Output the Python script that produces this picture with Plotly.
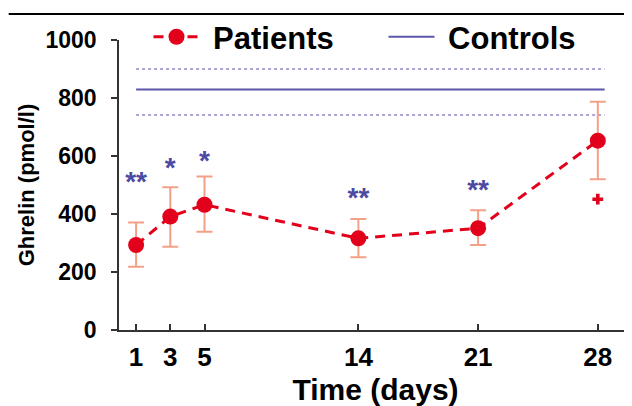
import plotly.graph_objects as go

# ---- data ----
days = [1, 3, 5, 14, 21, 28]
ghrelin = [293, 391, 432, 316, 351, 653]
err_plus = [78, 101, 97, 67, 62, 134]
err_minus = [75, 104, 93, 65, 58, 133]

ctrl_days = [1, 28.4]
ctrl_mean = 829
ctrl_upper = 900
ctrl_lower = 741

sig_days = [1, 3, 5, 14, 21]
sig_labels = ["**", "*", "*", "**", "**"]
sig_y = [505, 552, 576, 450, 477]

plus_days = [28]
plus_y = [451]

xtick_vals = [1, 3, 5, 14, 21, 28]
ytick_vals = [0, 200, 400, 600, 800, 1000]

FONT = "Liberation Sans, Arial, Helvetica, sans-serif"
RED = "#e3001b"
ERR = "#f3a088"
BLUE = "#4d4aa3"
CTRL = "#5b57aa"
CTRL_DOT = "#8d8bc9"

fig = go.Figure()

# controls band (dotted)
for v in (ctrl_upper, ctrl_lower):
    fig.add_trace(go.Scatter(
        x=ctrl_days, y=[v, v], mode="lines",
        line=dict(color=CTRL_DOT, width=1.5, dash="3px,3px"),
        showlegend=False, hoverinfo="skip"))

# patients
fig.add_trace(go.Scatter(
    x=days, y=ghrelin, mode="lines+markers", name="\u00a0Patients",
    line=dict(color=RED, width=3, dash="10px,7px"),
    marker=dict(color=RED, size=16, symbol="circle"),
    error_y=dict(type="data", array=err_plus, arrayminus=err_minus,
                 color=ERR, thickness=2, width=8, symmetric=False),
))

# controls mean
fig.add_trace(go.Scatter(
    x=ctrl_days, y=[ctrl_mean, ctrl_mean], mode="lines", name="\u00a0Controls",
    line=dict(color=CTRL, width=2),
))

# significance marks
fig.add_trace(go.Scatter(
    x=sig_days, y=sig_y, mode="text", text=sig_labels,
    textposition="middle center",
    textfont=dict(family=FONT, size=28, color=BLUE, weight="bold"),
    showlegend=False, hoverinfo="skip"))

fig.add_trace(go.Scatter(
    x=plus_days, y=plus_y, mode="markers",
    marker=dict(symbol="cross", size=9, color=RED, line=dict(width=0)),
    showlegend=False, hoverinfo="skip"))

fig.update_layout(
    width=624, height=398,
    margin=dict(l=111, r=0, t=32, b=76, autoexpand=False),
    plot_bgcolor="white", paper_bgcolor="white",
    font=dict(family=FONT, color="black"),
    legend=dict(orientation="h", x=0.0575, y=1.01, xanchor="left", yanchor="middle",
                font=dict(family=FONT, size=31, color="black", weight="bold"),
                bgcolor="rgba(0,0,0,0)", itemwidth=46, tracegroupgap=0,
                entrywidth=174),
    shapes=[dict(type="line", xref="paper", yref="paper",
                 x0=-0.215, x1=1.0, y0=1.09, y1=1.09,
                 line=dict(color="black", width=2))],
)

fig.update_xaxes(
    range=[0, 30], tickvals=xtick_vals, ticktext=[str(v) for v in xtick_vals],
    showline=True, linecolor="#333", linewidth=1.5,
    ticks="inside", ticklen=6, tickcolor="#333", tickwidth=1.5,
    showgrid=False, zeroline=False, automargin=False,
    tickfont=dict(family=FONT, size=26, color="black", weight="bold"),
    ticklabelstandoff=3,
    title=dict(text="Time (days)", font=dict(family=FONT, size=30, color="black", weight="bold"),
               standoff=18),
)
fig.update_yaxes(
    range=[0, 1000], tickvals=ytick_vals,
    showline=True, linecolor="#333", linewidth=1.5,
    ticks="outside", ticklen=6, tickcolor="#333", tickwidth=1.5,
    showgrid=False, zeroline=False, automargin=False,
    tickfont=dict(family=FONT, size=23, color="black", weight="bold"),
    ticklabelstandoff=10,
    title=dict(text="Ghrelin (pmol/l)", font=dict(family=FONT, size=22, color="black", weight="bold"),
               standoff=5),
)

fig.write_html("out.html")
